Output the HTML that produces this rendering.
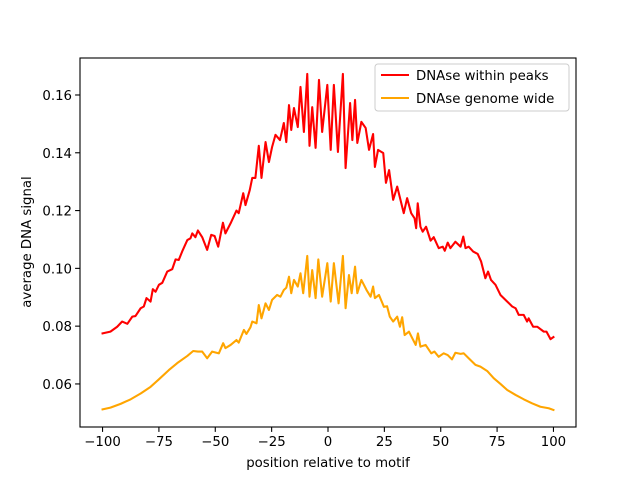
<!DOCTYPE html>
<html><head><meta charset="utf-8"><style>
html,body{margin:0;padding:0;background:#fff;}
svg{display:block;font-family:"DejaVu Sans","Liberation Sans",sans-serif;}
</style></head><body>
<svg id="chart" width="640" height="480" viewBox="0 0 640 480" xmlns="http://www.w3.org/2000/svg">
<rect x="0" y="0" width="640" height="480" fill="#fff"/>
<g id="plot"></g>
<g id="axes"></g>
<text x="328" y="467" font-size="13.3" text-anchor="middle">position relative to motif</text>
<text transform="translate(31,242) rotate(-90)" font-size="13.3" text-anchor="middle">average DNA signal</text>
<g>
<rect x="375" y="64" width="194" height="47" rx="3" fill="#fff" fill-opacity="0.8" stroke="#ccc"/>
<line x1="381" y1="75" x2="409" y2="75" stroke="#ff0000" stroke-width="2.08"/>
<text x="416" y="80" font-size="13.3">DNAse within peaks</text>
<line x1="381" y1="98" x2="409" y2="98" stroke="#ffa500" stroke-width="2.08"/>
<text x="416" y="103" font-size="13.3">DNAse genome wide</text>
</g>
</svg>
<script>
const xTicks=[-100,-75,-50,-25,0,25,50,75,100];
const yTicks=[0.06,0.08,0.10,0.12,0.14,0.16];
const yTickLabels=["0.06","0.08","0.10","0.12","0.14","0.16"];
const peaksX=[-100,-96.5,-93.5,-91.3,-89,-86.8,-85.4,-83.1,-81.7,-80.5,-78.7,-77.7,-76.5,-75,-73.5,-71.3,-69.1,-67.6,-66.2,-64.7,-62.4,-61,-60.2,-58.8,-57.7,-55.8,-53.6,-51.8,-50.3,-48.7,-46.6,-45.5,-43.2,-40.6,-39.6,-37.6,-36.6,-34.7,-33.6,-32.2,-30.7,-29.5,-27.7,-26.2,-24.8,-23.3,-21.3,-19.6,-18.5,-17.3,-16.3,-15.1,-13.4,-12.2,-10.7,-9.2,-8.2,-7,-5.5,-4,-2.6,-0.3,1.2,2.6,4.4,6.6,7.8,9.8,10.8,12,13,14.8,16.7,18.2,20,20.8,22.2,24.5,25.7,27.1,28.9,30.7,33.6,35.1,36.9,38.4,39.1,39.8,41,42,43.5,45.5,46.9,49.1,50.9,51.8,53.1,54.3,56.5,58.8,60,61,62.4,64.4,66.4,67.9,69.8,71,72.3,74.3,76.5,79.5,81.7,83.2,84.6,86.8,88.3,89,91,92.8,95.7,96.9,98.7,100];
const peaksY=[0.0775,0.0781,0.0798,0.0816,0.0808,0.0833,0.0835,0.0862,0.0868,0.0897,0.0885,0.0928,0.0919,0.0943,0.095,0.0989,0.0997,0.1031,0.1029,0.1058,0.1098,0.1104,0.1121,0.1108,0.1131,0.1108,0.1064,0.1116,0.1112,0.1075,0.1158,0.1121,0.1156,0.12,0.1191,0.126,0.1219,0.1271,0.1313,0.1313,0.1424,0.1313,0.1437,0.1368,0.142,0.1462,0.1444,0.1503,0.1437,0.1565,0.1479,0.1555,0.1489,0.1628,0.1472,0.1673,0.1424,0.1558,0.1417,0.1652,0.1472,0.1635,0.141,0.1635,0.1403,0.1673,0.1347,0.1572,0.1444,0.1583,0.1434,0.1507,0.1486,0.141,0.1465,0.1351,0.141,0.1399,0.1296,0.134,0.1237,0.1283,0.1191,0.1243,0.1191,0.1173,0.1139,0.1225,0.1144,0.1127,0.1144,0.1096,0.1108,0.107,0.1075,0.1061,0.1089,0.107,0.1092,0.1075,0.111,0.107,0.1075,0.1058,0.105,0.1024,0.0966,0.0989,0.096,0.0943,0.0908,0.0885,0.0868,0.0862,0.0839,0.0839,0.0816,0.0827,0.0798,0.0798,0.0781,0.0781,0.0755,0.0762];
const genomeX=[-100,-96.5,-92,-87.5,-83.1,-78.7,-75,-70.6,-66.9,-62.4,-59.8,-57.7,-55.8,-53.6,-51.4,-48.4,-46.5,-45.5,-43.2,-40.6,-39.6,-37.3,-36.2,-34.4,-33.6,-31.7,-30.7,-29.5,-27.7,-26.2,-24.8,-22.6,-21.1,-19.6,-18.5,-17.3,-16.3,-15.1,-13.4,-12.2,-11,-9.2,-8.2,-7,-5.5,-4.3,-2.6,-0.3,1.2,2.6,4.7,6.6,7.8,9.3,10.5,12,13,14.8,17.1,18.9,20,20.8,22.6,24.8,26.2,27.4,28.9,30.7,31.9,32.9,34,35.9,38.9,39.9,41,43.3,45.8,47.2,49.1,51.3,53.1,55,56.5,58.8,60.2,62.4,65.4,67.6,70.6,73.5,76.5,79.5,83.2,86.8,90.5,94.2,97.9,100];
const genomeY=[0.0512,0.0518,0.0531,0.0547,0.0567,0.059,0.0616,0.0648,0.0672,0.0697,0.0714,0.0712,0.0712,0.0689,0.0712,0.0706,0.0741,0.0724,0.0735,0.0752,0.0743,0.0787,0.0773,0.0796,0.0816,0.081,0.0873,0.0827,0.0879,0.0856,0.0891,0.0908,0.0902,0.0925,0.0933,0.0971,0.0914,0.096,0.0937,0.0983,0.0914,0.1043,0.0902,0.0994,0.0897,0.1031,0.0902,0.1018,0.0885,0.1018,0.0879,0.1043,0.0862,0.0977,0.0914,0.1006,0.0914,0.096,0.0925,0.0902,0.0937,0.0897,0.0908,0.0867,0.0869,0.0833,0.0816,0.0833,0.0798,0.0831,0.0769,0.0781,0.0735,0.0775,0.0729,0.0735,0.0706,0.0712,0.0694,0.0706,0.07,0.0685,0.0708,0.0704,0.0706,0.0689,0.0666,0.066,0.0645,0.062,0.06,0.0579,0.0562,0.0547,0.0533,0.0521,0.0516,0.051];

const L=80,R=576,T=58,B=427;
const xMin=-110,xMax=110,yMin=0.0451,yMax=0.1728;
function sx(v){return L+(v-xMin)/(xMax-xMin)*(R-L);}
function sy(v){return B-(v-yMin)/(yMax-yMin)*(B-T);}
const NS="http://www.w3.org/2000/svg";
const plot=document.getElementById('plot');
const axes=document.getElementById('axes');
function mk(tag,attrs,parent){const e=document.createElementNS(NS,tag);for(const k in attrs)e.setAttribute(k,attrs[k]);parent.appendChild(e);return e;}

function drawLine(xs,ys,color,name){
  const d=xs.map((x,i)=>(i?'L':'M')+sx(x).toFixed(2)+','+sy(ys[i]).toFixed(2)).join(' ');
  const p=mk('path',{d:d,fill:'none',stroke:color,'stroke-width':2.08,'stroke-linejoin':'round','stroke-linecap':'square'},plot);
  
  
}
drawLine(peaksX,peaksY,'#ff0000','line-dnase-within-peaks');
drawLine(genomeX,genomeY,'#ffa500','line-dnase-genome-wide');

const frame=mk('rect',{x:L,y:T,width:R-L,height:B-T,fill:'none',stroke:'#000','stroke-width':1.1},axes);



xTicks.forEach(t=>{
  const x=sx(t);
  const tk=mk('line',{x1:x,y1:B,x2:x,y2:B+4.9,stroke:'#000','stroke-width':1.1},axes);
  
  
  const lb=mk('text',{x:x,y:B+19,'font-size':13.3,'text-anchor':'middle'},axes);
  lb.textContent=(t<0?'\u2212'+(-t):String(t));
  
  
});
yTicks.forEach((t,i)=>{
  const y=sy(t);
  const tk=mk('line',{x1:L-4.9,y1:y,x2:L,y2:y,stroke:'#000','stroke-width':1.1},axes);
  
  
  const lb=mk('text',{x:L-8,y:y+5,'font-size':13.3,'text-anchor':'end'},axes);
  lb.textContent=yTickLabels[i];
  
  
});
</script>
</body></html>
